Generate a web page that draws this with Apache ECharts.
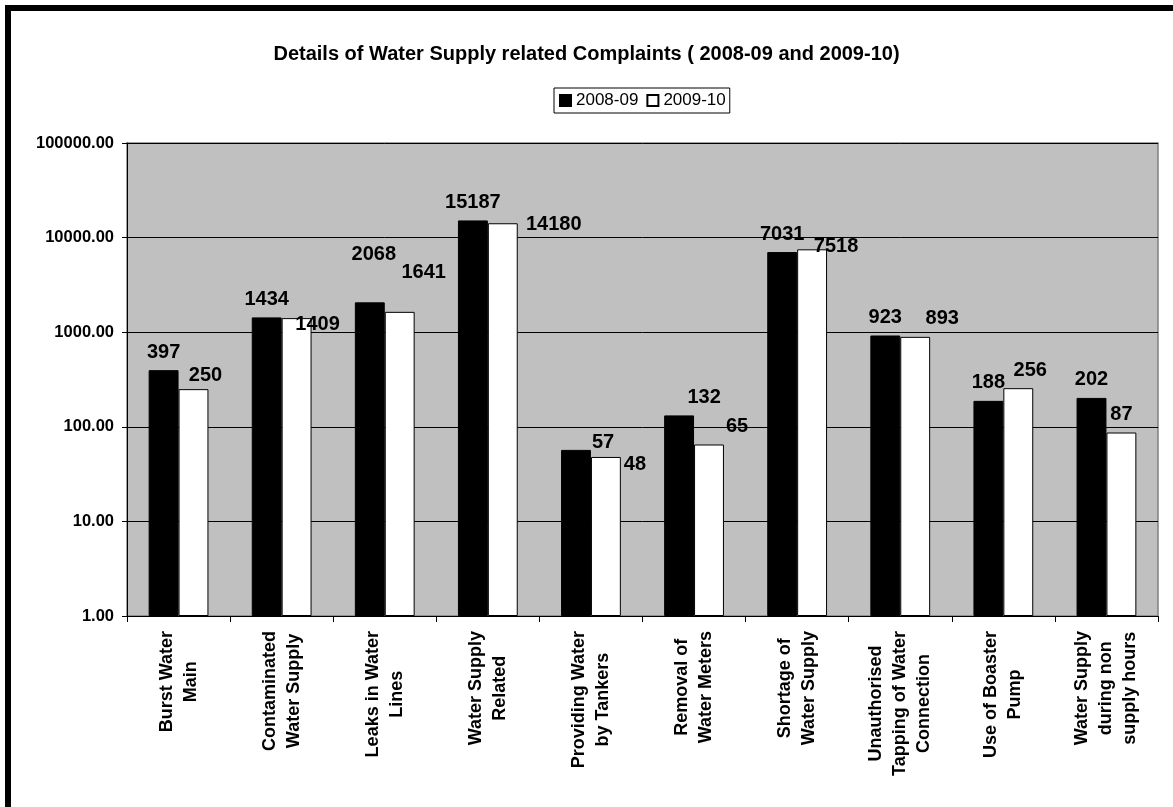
<!DOCTYPE html>
<html>
<head>
<meta charset="utf-8">
<script src="https://cdn.jsdelivr.net/npm/echarts@6/dist/echarts.min.js"></script>
<style>
  html, body { margin: 0; padding: 0; background: #fff; }
  #chart { position: absolute; left: 0; top: 0; width: 1173px; height: 807px; }
  #frame { position: absolute; left: 5px; top: 5px; width: 1200px; height: 900px;
           border-left: 6px solid #000; border-top: 6px solid #000; pointer-events: none; }
</style>
</head>
<body>
<div id="chart"></div>
<div id="frame"></div>
<script>
const categories = [
  'Burst Water\nMain',
  'Contaminated\nWater Supply',
  'Leaks in Water\nLines',
  'Water Supply\nRelated',
  'Providing Water\nby Tankers',
  'Removal of\nWater Meters',
  'Shortage of\nWater Supply',
  'Unauthorised\nTapping of Water\nConnection',
  'Use of Boaster\nPump',
  'Water Supply\nduring non\nsupply hours'
];
const seriesNames = ['2008-09', '2009-10'];
const values2008 = [397, 1434, 2068, 15187, 57, 132, 7031, 923, 188, 202];
const values2009 = [250, 1409, 1641, 14180, 48, 65, 7518, 893, 256, 87];
const yTicks = [1, 10, 100, 1000, 10000, 100000];

// label nudges (style only): the original moves some data labels aside to avoid overlap
const labelNudge2008 = [null, null, [4, -30], null, [27, 11], [25, 0], null, null, null, null];
const labelNudge2009 = [[12, 4], [21, 24], [24, -21], [51, 19], [29, 26], [28, 0], [24, 15], [27, 0], [12, 0], [0, 0]];

const FONT = '"Liberation Sans", Arial, sans-serif';

const chart = echarts.init(document.getElementById('chart'), null, { renderer: 'canvas' });

function labelled(values, nudges) {
  return values.map((v, i) => {
    const d = { value: v };
    if (nudges && nudges[i]) d.label = { offset: nudges[i] };
    return d;
  });
}

const option = {
  backgroundColor: '#ffffff',
  animation: false,
  textStyle: { fontFamily: FONT },
  title: {
    text: 'Details of Water Supply related Complaints ( 2008-09 and 2009-10)',
    left: 'center',
    top: 39,
    textStyle: { fontFamily: FONT, fontSize: 20, fontWeight: 'bold', color: '#000' }
  },
  legend: {
    data: seriesNames,
    left: 554,
    top: 88,
    orient: 'horizontal',
    itemWidth: 11,
    itemHeight: 11,
    itemGap: 8,
    padding: [4, 4, 4, 5],
    borderColor: '#000',
    borderWidth: 1,
    icon: 'rect',
    textStyle: { fontFamily: FONT, fontSize: 17, color: '#000' }
  },
  grid: {
    left: 127,
    top: 143,
    width: 1031,
    height: 473,
    show: true,
    backgroundColor: '#C0C0C0',
    borderColor: '#808080',
    borderWidth: 1.5,
    containLabel: false
  },
  xAxis: {
    type: 'category',
    data: categories,
    axisLine: { show: true, lineStyle: { color: '#000', width: 1 } },
    axisTick: { show: true, alignWithLabel: false, length: 6, lineStyle: { color: '#000' } },
    axisLabel: {
      interval: 0,
      rotate: 90,
      margin: 15,
      color: '#000',
      fontFamily: FONT,
      fontSize: 18,
      fontWeight: 'bold',
      lineHeight: 24,
      formatter: function (v) {
        return v.split('\n').map(l => '{c|' + l + '}').join('\n');
      },
      rich: {
        c: { align: 'center', fontFamily: FONT, fontSize: 18, fontWeight: 'bold', lineHeight: 24, color: '#000' }
      }
    },
    splitLine: { show: false }
  },
  yAxis: {
    type: 'log',
    logBase: 10,
    min: yTicks[0],
    max: yTicks[yTicks.length - 1],
    axisLine: { show: true, lineStyle: { color: '#000', width: 1 } },
    axisTick: { show: true, length: 5, lineStyle: { color: '#000' } },
    axisLabel: {
      margin: 13,
      color: '#000',
      fontFamily: FONT,
      fontSize: 16.5,
      fontWeight: 'bold',
      formatter: function (v) { return Number(v).toFixed(2); }
    },
    splitLine: { show: true, lineStyle: { color: '#000', width: 1 } }
  },
  series: [
    {
      name: seriesNames[0],
      type: 'bar',
      data: labelled(values2008, labelNudge2008),
      barGap: '0%',
      barCategoryGap: '42%',
      itemStyle: { color: '#000000', borderColor: '#000', borderWidth: 1 },
      label: {
        show: true,
        position: 'top',
        distance: 8,
        color: '#000',
        fontFamily: FONT,
        fontSize: 20,
        fontWeight: 'bold'
      }
    },
    {
      name: seriesNames[1],
      type: 'bar',
      data: labelled(values2009, labelNudge2009),
      barGap: '0%',
      barCategoryGap: '42%',
      itemStyle: { color: '#ffffff', borderColor: '#000', borderWidth: 1 },
      label: {
        show: true,
        position: 'top',
        distance: 8,
        color: '#000',
        fontFamily: FONT,
        fontSize: 20,
        fontWeight: 'bold'
      }
    }
  ]
};

chart.setOption(option);
</script>
</body>
</html>
